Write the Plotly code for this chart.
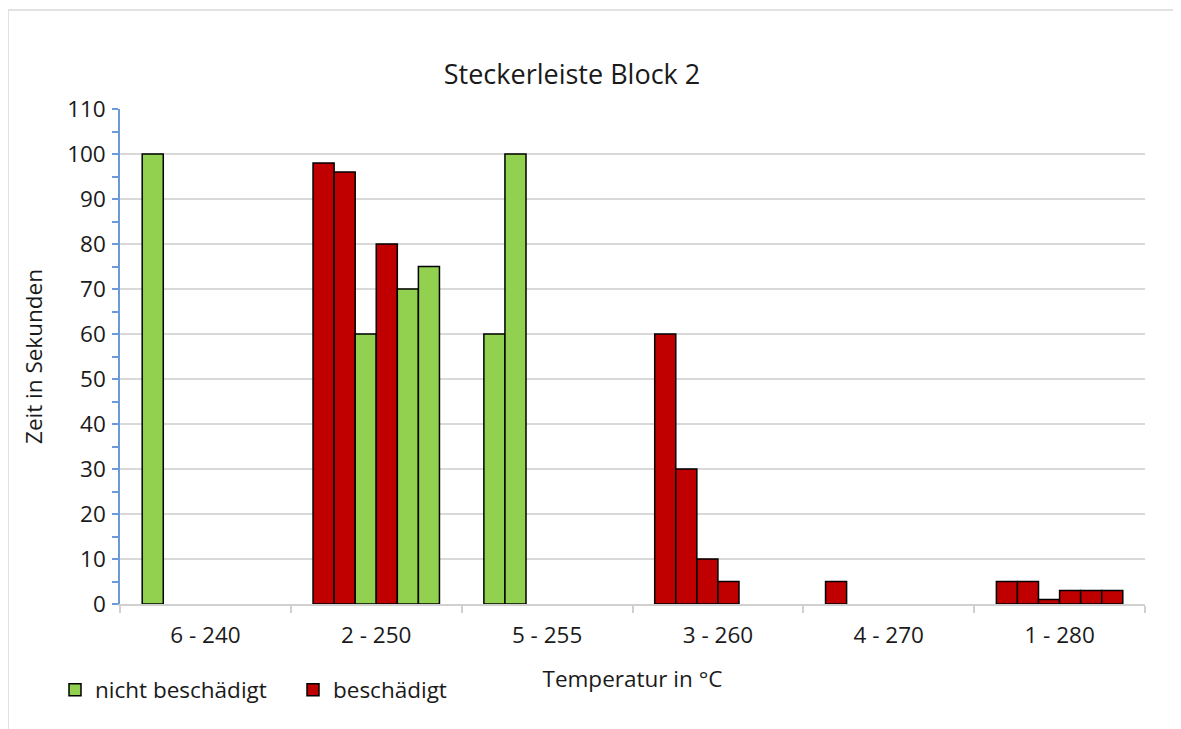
import plotly.graph_objects as go

categories = ["6 - 240", "2 - 250", "5 - 255", "3 - 260", "4 - 270", "1 - 280"]

# values per slot (test run position within each category)
slot1 = [100, 98, 60, 60, 5, 5]
slot2 = [None, 96, 100, 30, None, 5]
slot3 = [None, 60, None, 10, None, 1]
slot4 = [None, 80, None, 5, None, 3]
slot5 = [None, 70, None, None, None, 3]
slot6 = [None, 75, None, None, None, 3]

# status per slot: "n" = nicht beschädigt, "b" = beschädigt
stat1 = ["n", "b", "n", "b", "b", "b"]
stat2 = [None, "b", "n", "b", None, "b"]
stat3 = [None, "n", None, "b", None, "b"]
stat4 = [None, "b", None, "b", None, "b"]
stat5 = [None, "n", None, None, None, "b"]
stat6 = [None, "n", None, None, None, "b"]

slots = [slot1, slot2, slot3, slot4, slot5, slot6]
stats = [stat1, stat2, stat3, stat4, stat5, stat6]

GREEN = "#92D050"
RED = "#C00000"
FONT = "Open Sans"
TXT = "#1a1a1a"
FS = 22.5

fig = go.Figure()
for i, (vals, st) in enumerate(zip(slots, stats)):
    for code, name, color in [("n", "nicht beschädigt", GREEN), ("b", "beschädigt", RED)]:
        y = [v if s == code else None for v, s in zip(vals, st)]
        fig.add_trace(go.Bar(
            x=categories, y=y, name=name, offsetgroup=str(i),
            legendgroup=code, showlegend=(i == 0),
            marker=dict(color=color, line=dict(color="black", width=1.5)),
        ))

OFF = 8  # page body margin
W, H = 1181 - OFF, 729 - OFF
L, R, T, B = 112, 36, 101, 125
pw, ph = W - L - R, H - T - B

def px(x):
    return (x - OFF - L) / pw

def py(y):
    return (H - B - (y - OFF)) / ph

fig.update_layout(
    width=W, height=H,
    margin=dict(l=L, r=R, t=T, b=B),
    paper_bgcolor="white", plot_bgcolor="white",
    barmode="group", bargap=0.26, bargroupgap=0,
    font=dict(family=FONT, size=FS, color=TXT),
    title=dict(text="Steckerleiste Block 2", x=px(572), xref="paper", xanchor="center",
               y=1 - (75 - OFF) / H, yref="container", yanchor="middle",
               font=dict(family=FONT, size=27, color=TXT)),
    legend=dict(orientation="h", x=px(55), y=py(690), xanchor="left", yanchor="middle",
                font=dict(family=FONT, size=FS, color=TXT), traceorder="normal",
                entrywidth=193, entrywidthmode="pixels", bgcolor="rgba(0,0,0,0)"),
    shapes=[dict(type="rect", xref="paper", yref="paper",
                 x0=px(8), x1=px(1195), y0=py(745), y1=py(10),
                 line=dict(color="#D9D9D9", width=1.5), fillcolor="rgba(0,0,0,0)", layer="below")],
)

fig.update_xaxes(
    showgrid=False, showline=True, linecolor="#D0D0D0", linewidth=1.5,
    ticks="outside", tickson="boundaries", ticklen=7, tickcolor="#D0D0D0", tickwidth=1.5,
    tickfont=dict(family=FONT, size=FS, color=TXT), ticklabelstandoff=10,
    title=dict(text="Temperatur in °C", font=dict(family=FONT, size=FS, color=TXT), standoff=22),
)
fig.update_yaxes(
    range=[0, 110], dtick=10, tick0=0,
    showgrid=True, gridcolor="#D9D9D9", gridwidth=1.5,
    showline=True, linecolor="#6A9BD8", linewidth=1.5,
    ticks="outside", ticklen=6, tickcolor="#6A9BD8", tickwidth=1.5,
    minor=dict(dtick=5, ticks="outside", ticklen=6, tickcolor="#6A9BD8", tickwidth=1.5, showgrid=False),
    zeroline=False,
    tickfont=dict(family=FONT, size=FS, color=TXT), ticklabelstandoff=2,
    title=dict(text="Zeit in Sekunden", font=dict(family=FONT, size=FS, color=TXT), standoff=18),
)

fig.write_html("out.html")
